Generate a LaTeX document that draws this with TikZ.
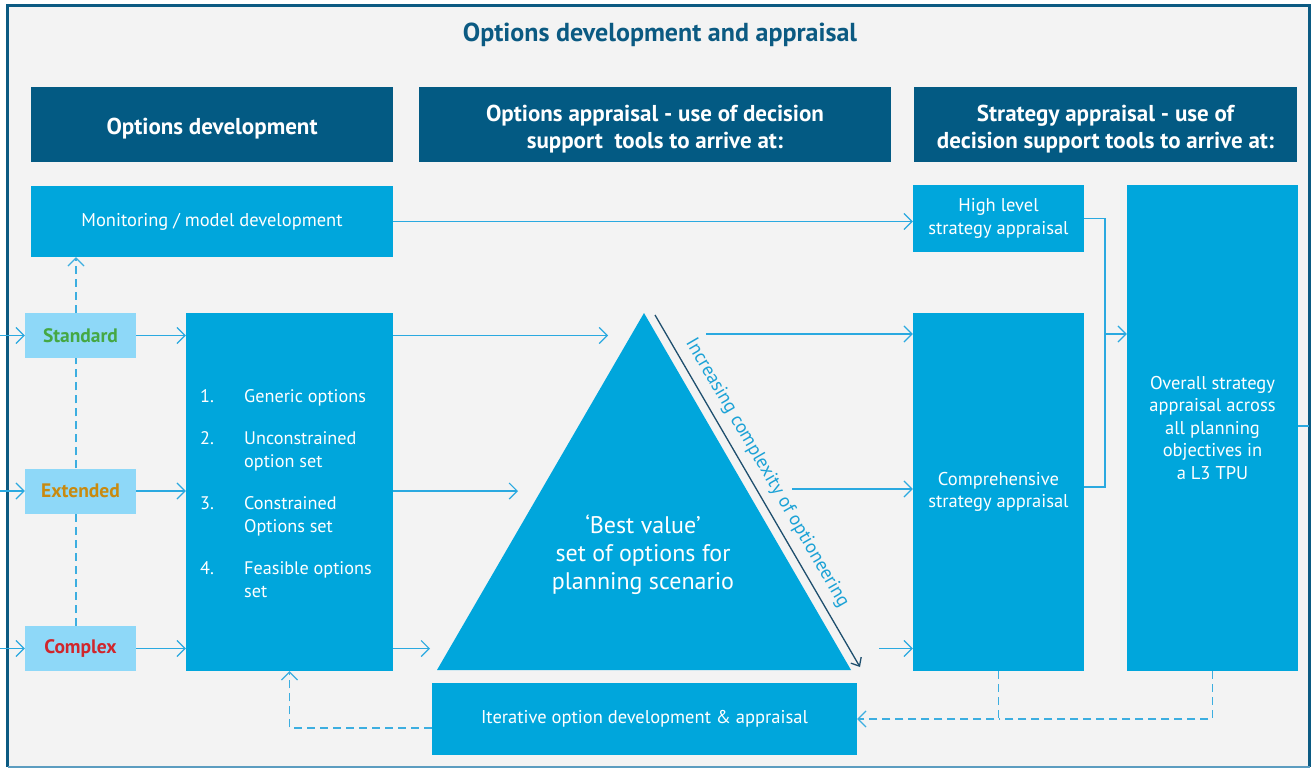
\documentclass[tikz,border=0pt]{standalone}
\usepackage{fontspec}
\setmainfont{PT Sans}
\usepackage{xcolor}
\usetikzlibrary{arrows.meta, positioning}

\definecolor{bgrey}{HTML}{F3F3F3}
\definecolor{frameblue}{HTML}{0B5A82}
\definecolor{framelight}{HTML}{5C9DC0}
\definecolor{hdrblue}{HTML}{035A83}
\definecolor{boxblue}{HTML}{00A6DC}
\definecolor{lvlblue}{HTML}{8ED8F8}
\definecolor{lineblue}{HTML}{2AA9E0}
\definecolor{dashblue}{HTML}{3CAEE0}
\definecolor{navyline}{HTML}{1E4F6E}
\definecolor{sideblue}{HTML}{1CA2D6}
\definecolor{stdgreen}{HTML}{45A844}
\definecolor{extorange}{HTML}{C98A0F}
\definecolor{cpxred}{HTML}{D0262C}

\begin{document}
\begin{tikzpicture}[x=1pt, y=-1pt,
  hdr/.style={fill=hdrblue, text=white, font=\bfseries\fontsize{23}{27}\selectfont, align=center, inner sep=0pt, minimum height=75pt},
  box/.style={fill=boxblue, text=white, font=\fontsize{18.5}{22.5}\selectfont, align=center, inner sep=0pt},
  lvl/.style={fill=lvlblue, font=\bfseries\fontsize{19.5}{21}\selectfont, minimum width=111pt, minimum height=45pt, inner sep=0pt},
  arr/.style={-{Straight Barb[length=8pt, width=16pt]}, line width=1.2pt, draw=lineblue},
  lnk/.style={line width=1.2pt, draw=lineblue},
  dsh/.style={dashed, dash pattern=on 8pt off 5pt, line width=1.2pt, draw=dashblue}
]
\useasboundingbox (0,0) rectangle (1313,769);

% background and frame
\fill[white] (0,0) rectangle (1313,769);
\fill[bgrey] (7,5) rectangle (1309,767);
\draw[frameblue, line width=3.5pt] (7.5,767) -- (7.5,5.5) -- (1309.5,5.5) -- (1309.5,767);
\draw[framelight, line width=1.5pt] (7.5,767) -- (1309.5,767);

\node[text=frameblue, font=\bfseries\fontsize{26}{30}\selectfont] (title) at (660,35) {Options development and appraisal};

% column headers
\node[hdr, minimum width=362pt] (h1) at (212,124.5) {\rule{0pt}{25pt}Options development};
\node[hdr, minimum width=472pt] (h2) at (655,124.5) {\rule{0pt}{25pt}Options appraisal - use of decision\\support\ \ tools to arrive at:};
\node[hdr, minimum width=383pt] (h3) at (1105.5,124.5) {\rule{0pt}{25pt}Strategy appraisal - use of\\decision support tools to arrive at:};

% options development
\node[box, minimum width=362pt, minimum height=71pt] (mon) at (212,221.5) {Monitoring / model development};
\node[lvl, text=stdgreen] (std) at (80.5,335.5) {Standard};
\node[lvl, text=extorange] (ext) at (80.5,491) {Extended};
\node[lvl, text=cpxred] (cplx) at (80.5,648.5) {Complex};
\node[box, minimum width=207pt, minimum height=358pt] (list) at (289.5,492) {};
\node[text=white, font=\fontsize{18.2}{23}\selectfont, anchor=west, inner sep=0pt] (items) at (200,495) {%
  \begin{tabular}{@{}p{44pt}@{}l@{}}
  1. & Generic options\\[19pt]
  2. & Unconstrained\\
     & option set\\[19pt]
  3. & Constrained\\
     & Options set\\[19pt]
  4. & Feasible options\\
     & set
  \end{tabular}};

% best value triangle
\coordinate (apex) at (644,313);
\coordinate (bl) at (437,670);
\coordinate (br) at (851,670);
\fill[boxblue] (apex) -- (bl) -- (br) -- cycle;
\node[text=white, font=\fontsize{24}{28}\selectfont, align=center] (best) at (643,555) {‘Best value’\\set of options for\\planning scenario};
\coordinate (cx0) at (655,315);
\coordinate (cx1) at (860,667);
\draw[navyline, line width=1.3pt, -{Straight Barb[length=7pt, width=12pt]}] (cx0) -- (cx1);
\node[text=sideblue, font=\fontsize{19}{20}\selectfont, rotate=-59.8] (incr) at (767,473) {Increasing complexity of optioneering};

% strategy appraisal
\node[box, minimum width=171pt, minimum height=67pt] (hl) at (998.5,218.5) {High level\\strategy appraisal};
\node[box, minimum width=171pt, minimum height=358pt] (comp) at (998.5,492) {Comprehensive\\strategy appraisal};
\node[box, minimum width=171pt, minimum height=486pt] (over) at (1212.5,428) {Overall strategy\\appraisal across\\all planning\\objectives in\\a L3 TPU};
\node[box, minimum width=425pt, minimum height=72pt] (iter) at (644.5,719) {Iterative option development \& appraisal};

% connectors
\coordinate (lin) at (0,0);
\coordinate (lv) at (76,0);
\foreach \n in {std, ext, cplx}{
  \draw[arr] (lin |- \n.west) -- (\n.west);
  \draw[arr] (\n.east) -- (\n.east -| list.west);
}
\draw[dsh] (lv |- cplx.north) -- (lv |- ext.south);
\draw[dsh] (lv |- ext.north) -- (lv |- std.south);
\draw[dsh, -{Straight Barb[length=8pt, width=16pt]}] (lv |- std.north) -- (lv |- mon.south);

\coordinate (tl1) at (608,335.5);
\coordinate (tl2) at (518,491);
\coordinate (tl3) at (430,648.5);
\coordinate (tr1) at (706,334);
\coordinate (tr2) at (792,489);
\coordinate (tr3) at (879,648.5);
\foreach \i in {1,2,3}{
  \draw[arr] (list.east |- tl\i) -- (tl\i);
  \draw[arr] (tr\i) -- (tr\i -| comp.west);
}
\draw[arr] (mon.east) -- (mon.east -| hl.west);

\coordinate (jn) at (1105,334);
\coordinate (cj) at (1105,487);
\draw[lnk] (hl.east) -| (cj) -- (comp.east |- cj);
\draw[arr] (jn) -- (jn -| over.west);
\coordinate (redge) at (1309,426);
\draw[lnk] (over.east |- redge) -- (redge);

\draw[dsh] (over.south) |- (comp.south |- iter.east);
\draw[dsh, -{Straight Barb[length=8pt, width=16pt]}] (comp.south) |- (iter.east);
\draw[dsh, -{Straight Barb[length=8pt, width=16pt]}] ([yshift=-9pt]iter.west) -| (list.south);
\end{tikzpicture}
\end{document}
